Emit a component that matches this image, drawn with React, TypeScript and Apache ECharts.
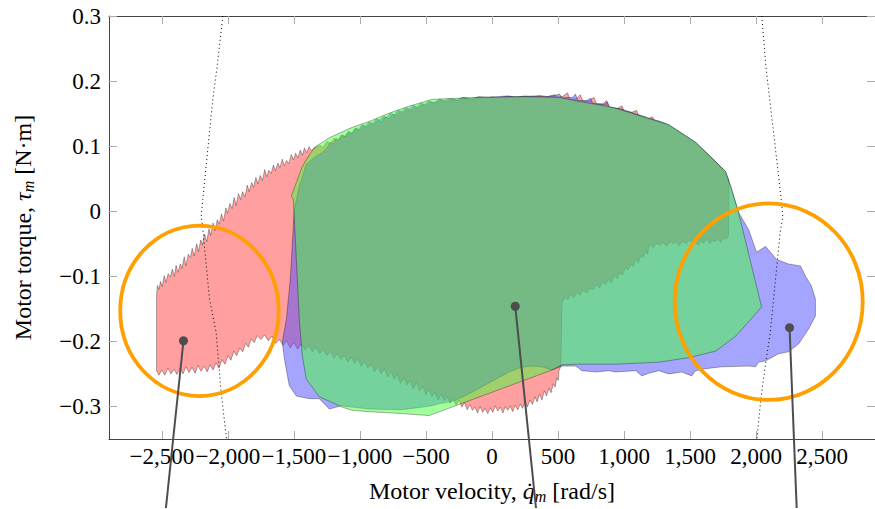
import React, { useEffect, useRef } from "react";
import * as echarts from "echarts";

// ---------- tick values ----------
const xTicks = [-2500, -2000, -1500, -1000, -500, 0, 500, 1000, 1500, 2000, 2500];
const yTicks = [-0.3, -0.2, -0.1, 0, 0.1, 0.2, 0.3];

// ---------- envelopes (motor velocity rad/s, motor torque N·m) ----------
const redTop: number[][] = [
  [-2540, -0.129], [-2533, -0.114], [-2522, -0.12], [-2510, -0.108], [-2497, -0.116], [-2482, -0.099], [-2470, -0.109],
  [-2452, -0.096], [-2437, -0.101], [-2420, -0.089], [-2405, -0.1], [-2392, -0.083], [-2378, -0.094], [-2360, -0.081],
  [-2348, -0.088], [-2330, -0.07], [-2318, -0.084], [-2300, -0.066], [-2283, -0.071], [-2270, -0.057], [-2255, -0.069],
  [-2236, -0.05], [-2222, -0.062], [-2205, -0.044], [-2193, -0.052], [-2176, -0.035], [-2160, -0.047], [-2143, -0.027],
  [-2130, -0.037], [-2112, -0.018], [-2097, -0.03], [-2080, -0.013], [-2066, -0.02], [-2048, -0.004], [-2033, -0.015],
  [-2015, 0.005], [-2002, -0.003], [-1985, 0.012], [-1968, 0.004], [-1952, 0.021], [-1937, 0.009], [-1920, 0.027],
  [-1903, 0.018], [-1888, 0.03], [-1870, 0.022], [-1853, 0.04], [-1838, 0.03], [-1820, 0.044], [-1805, 0.037],
  [-1788, 0.052], [-1772, 0.042], [-1755, 0.055], [-1738, 0.047], [-1721, 0.064], [-1706, 0.053], [-1690, 0.063],
  [-1672, 0.058], [-1655, 0.071], [-1640, 0.062], [-1622, 0.074], [-1605, 0.067], [-1588, 0.08], [-1573, 0.07],
  [-1555, 0.078], [-1538, 0.073], [-1520, 0.087], [-1503, 0.079], [-1487, 0.089], [-1470, 0.082], [-1452, 0.094],
  [-1436, 0.086], [-1420, 0.097], [-1403, 0.09], [-1385, 0.099], [-1368, 0.093], [-1346, 0.098], [-1300, 0.101],
  [-1278, 0.098], [-1250, 0.107], [-1222, 0.104], [-1195, 0.112], [-1170, 0.108], [-1140, 0.117], [-1118, 0.115],
  [-1090, 0.121], [-1060, 0.119], [-1030, 0.127], [-1005, 0.124], [-975, 0.131], [-950, 0.129], [-920, 0.135],
  [-893, 0.133], [-865, 0.14], [-838, 0.137], [-810, 0.145], [-780, 0.142], [-752, 0.149], [-725, 0.147],
  [-700, 0.153], [-672, 0.151], [-645, 0.157], [-615, 0.155], [-585, 0.161], [-560, 0.158], [-530, 0.164],
  [-500, 0.162], [-470, 0.168], [-430, 0.166], [-390, 0.171], [-350, 0.168], [-300, 0.172], [-260, 0.17],
  [-200, 0.174], [-150, 0.171], [-100, 0.175], [-50, 0.173], [0, 0.176], [60, 0.174], [120, 0.177], [180, 0.175],
  [240, 0.177], [300, 0.176], [360, 0.178], [420, 0.176], [470, 0.179], [500, 0.175], [540, 0.177], [572, 0.182],
  [590, 0.172], [640, 0.173], [668, 0.179], [690, 0.169], [740, 0.17], [772, 0.175], [790, 0.165], [840, 0.165],
  [868, 0.17], [885, 0.16], [950, 0.158], [985, 0.162], [1000, 0.154], [1060, 0.152], [1095, 0.155], [1110, 0.147],
  [1180, 0.142], [1215, 0.145], [1230, 0.139], [1300, 0.135], [1338, 0.131], [1420, 0.121], [1542, 0.104],
  [1650, 0.084], [1740, 0.066], [1792, 0.048],
];
const redRight: number[][] = [
  [1792, -0.038], [1768, -0.043], [1750, -0.041], [1731, -0.048], [1712, -0.042], [1690, -0.047], [1671, -0.044],
  [1648, -0.05], [1627, -0.043], [1603, -0.049], [1580, -0.046], [1561, -0.052], [1536, -0.045], [1515, -0.049],
  [1492, -0.044], [1468, -0.05], [1441, -0.046], [1417, -0.053], [1396, -0.047], [1372, -0.05], [1347, -0.046],
  [1322, -0.054], [1298, -0.048], [1272, -0.052], [1248, -0.049], [1220, -0.056], [1200, -0.052], [1187, -0.054],
  [1178, -0.066], [1163, -0.061], [1146, -0.071], [1127, -0.068], [1109, -0.08], [1090, -0.073], [1070, -0.085],
  [1052, -0.081], [1031, -0.09], [1010, -0.086], [988, -0.098], [970, -0.094], [948, -0.103], [925, -0.099],
  [903, -0.11], [881, -0.104], [860, -0.113], [838, -0.109], [812, -0.118], [790, -0.113], [764, -0.121],
  [742, -0.118], [715, -0.126], [694, -0.121], [668, -0.129], [645, -0.125], [618, -0.133], [597, -0.128],
  [575, -0.136], [552, -0.132], [533, -0.14], [529, -0.146], [522, -0.238], [507, -0.245],
];
const redBottom: number[][] = [
  [502, -0.26], [490, -0.256], [478, -0.27], [464, -0.265], [447, -0.279], [432, -0.272], [412, -0.284], [396, -0.276],
  [378, -0.29], [360, -0.281], [342, -0.293], [325, -0.285], [306, -0.297], [287, -0.29], [268, -0.301], [250, -0.292],
  [231, -0.303], [214, -0.296], [195, -0.305], [176, -0.298], [157, -0.308], [138, -0.299], [120, -0.306], [101, -0.3],
  [82, -0.31], [63, -0.301], [44, -0.307], [25, -0.299], [6, -0.309], [-13, -0.302], [-32, -0.311], [-52, -0.303],
  [-71, -0.309], [-90, -0.3], [-110, -0.31], [-129, -0.301], [-148, -0.306], [-168, -0.297], [-188, -0.305],
  [-208, -0.294], [-228, -0.301], [-250, -0.29], [-272, -0.298], [-295, -0.287], [-318, -0.295], [-340, -0.285],
  [-362, -0.291], [-385, -0.281], [-408, -0.29], [-432, -0.278], [-455, -0.285], [-478, -0.273], [-500, -0.282],
  [-524, -0.269], [-548, -0.276], [-572, -0.263], [-596, -0.273], [-620, -0.26], [-645, -0.267], [-668, -0.255],
  [-692, -0.265], [-716, -0.251], [-740, -0.258], [-765, -0.246], [-790, -0.255], [-815, -0.242], [-840, -0.25],
  [-865, -0.238], [-890, -0.247], [-915, -0.235], [-940, -0.241], [-965, -0.23], [-990, -0.239], [-1015, -0.227],
  [-1040, -0.234], [-1066, -0.224], [-1092, -0.232], [-1118, -0.221], [-1144, -0.228], [-1170, -0.218],
  [-1196, -0.226], [-1222, -0.215], [-1250, -0.222], [-1278, -0.212], [-1305, -0.219], [-1333, -0.209],
  [-1360, -0.216], [-1388, -0.206], [-1416, -0.213], [-1444, -0.204], [-1472, -0.212], [-1500, -0.202],
  [-1527, -0.21], [-1555, -0.199], [-1582, -0.206], [-1610, -0.197], [-1638, -0.203], [-1666, -0.192],
  [-1694, -0.199], [-1722, -0.19], [-1750, -0.197], [-1777, -0.191], [-1800, -0.202], [-1822, -0.196],
  [-1845, -0.209], [-1866, -0.203], [-1888, -0.216], [-1910, -0.21], [-1933, -0.222], [-1955, -0.215],
  [-1977, -0.229], [-2000, -0.222], [-2022, -0.235], [-2044, -0.228], [-2067, -0.241], [-2090, -0.233],
  [-2112, -0.244], [-2135, -0.236], [-2157, -0.247], [-2180, -0.238], [-2203, -0.246], [-2226, -0.237],
  [-2248, -0.249], [-2271, -0.24], [-2294, -0.248], [-2317, -0.239], [-2340, -0.25], [-2362, -0.241],
  [-2385, -0.251], [-2408, -0.243], [-2431, -0.25], [-2454, -0.241], [-2477, -0.252], [-2500, -0.244],
  [-2522, -0.252], [-2540, -0.245],
];

const blueTop: number[][] = [
  [-1247, 0.098], [-1225, 0.106], [-1203, 0.103], [-1180, 0.112], [-1158, 0.109], [-1132, 0.117], [-1110, 0.114],
  [-1085, 0.123], [-1062, 0.12], [-1036, 0.128], [-1010, 0.126], [-985, 0.133], [-960, 0.131], [-932, 0.137],
  [-905, 0.135], [-878, 0.142], [-850, 0.14], [-822, 0.146], [-795, 0.144], [-768, 0.151], [-740, 0.148],
  [-712, 0.155], [-684, 0.153], [-655, 0.159], [-627, 0.157], [-598, 0.163], [-570, 0.16], [-540, 0.166],
  [-510, 0.164], [-480, 0.169], [-440, 0.167], [-400, 0.172], [-360, 0.17], [-320, 0.173], [-270, 0.171],
  [-220, 0.175], [-160, 0.173], [-100, 0.176], [0, 0.175], [100, 0.177], [200, 0.176], [300, 0.177], [400, 0.176],
  [460, 0.177], [512, 0.18], [530, 0.174], [610, 0.175], [632, 0.18], [650, 0.17], [720, 0.17], [748, 0.174],
  [760, 0.166], [850, 0.164], [874, 0.168], [890, 0.16], [980, 0.157], [1040, 0.153], [1080, 0.15], [1150, 0.146],
  [1200, 0.142], [1260, 0.139], [1338, 0.133], [1420, 0.122], [1542, 0.106], [1650, 0.085], [1769, 0.061],
  [1814, 0.034], [1867, -0.002], [1905, -0.015], [1943, -0.028], [2003, -0.063], [2071, -0.054], [2155, -0.074],
  [2192, -0.077], [2245, -0.081], [2336, -0.084], [2374, -0.1], [2419, -0.115], [2449, -0.135],
];
const blueBottom: number[][] = [
  [2449, -0.161], [2397, -0.181], [2321, -0.204], [2245, -0.216], [2170, -0.219], [2071, -0.23], [2018, -0.232],
  [1996, -0.239], [1943, -0.238], [1739, -0.239], [1618, -0.242], [1542, -0.245], [1512, -0.253], [1436, -0.247],
  [1338, -0.25], [1263, -0.245], [1187, -0.249], [1134, -0.253], [1089, -0.245], [937, -0.247], [885, -0.245],
  [786, -0.247], [680, -0.245], [635, -0.238], [529, -0.238], [454, -0.244], [378, -0.239], [280, -0.238],
  [204, -0.241], [129, -0.247], [30, -0.258], [-151, -0.278], [-280, -0.291], [-401, -0.296], [-454, -0.299],
  [-680, -0.305], [-930, -0.304], [-1058, -0.301], [-1142, -0.299], [-1232, -0.304], [-1308, -0.288],
  [-1383, -0.288], [-1482, -0.284], [-1535, -0.268], [-1572, -0.227], [-1588, -0.201], [-1557, -0.166],
  [-1527, -0.104], [-1497, 0.003], [-1459, 0.038], [-1406, 0.072], [-1331, 0.085], [-1285, 0.09],
];

const greenEnvelope: number[][] = [
  [-1331, 0.1], [-1232, 0.113], [-1058, 0.129], [-930, 0.138], [-801, 0.149], [-650, 0.16], [-454, 0.172],
  [-98, 0.175], [227, 0.176], [507, 0.175], [650, 0.169], [907, 0.16], [1164, 0.144], [1338, 0.133], [1542, 0.106],
  [1769, 0.061], [1814, 0.034], [1867, -0.002], [2041, -0.147], [1943, -0.17], [1845, -0.192], [1693, -0.215],
  [1489, -0.225], [1263, -0.232], [937, -0.235], [635, -0.235], [529, -0.236], [454, -0.244], [-476, -0.314],
  [-680, -0.311], [-930, -0.308], [-1058, -0.306], [-1134, -0.301], [-1308, -0.285], [-1406, -0.258],
  [-1436, -0.222], [-1459, -0.166], [-1504, 0.018], [-1520, 0.023], [-1482, 0.044], [-1436, 0.069], [-1383, 0.087],
];

// dotted limit curves
const leftLimit: number[][] = [
  [-2038, 0.3], [-2084, 0.218], [-2114, 0.172], [-2152, 0.095], [-2190, 0.018], [-2202, -0.008], [-2192, -0.023],
  [-2139, -0.135], [-2089, -0.186], [-2051, -0.278], [-2010, -0.35],
];
const rightLimit: number[][] = [
  [2043, 0.3], [2074, 0.222], [2132, 0.121], [2190, 0.018], [2202, -0.008], [2182, -0.032], [2157, -0.084],
  [2107, -0.186], [2069, -0.238], [2036, -0.288], [2006, -0.35],
];

// highlight ellipses: centre (v, tau) and radii (v, tau)
const highlightCenters: number[][] = [[-2215, -0.153], [2095, -0.139]];
const highlightRadii: number[][] = [[600, 0.131], [712, 0.151]];

// annotation pins: dot and the far end of the leader line
const pinDots: number[][] = [[-2336, -0.199], [176, -0.146], [2253, -0.179]];
const pinEnds: number[][] = [[-2469, -0.456], [333, -0.456], [2307, -0.456]];

const redEnvelope = [...redTop, ...redRight, ...redBottom];
const blueEnvelope = [...blueTop, ...blueBottom];

const FONT = "'Liberation Serif', 'Times New Roman', serif";

function fmtX(v: number) {
  const a = Math.abs(Math.round(v)).toLocaleString("en-US");
  return v < 0 ? "\u2212" + a : a;
}
function fmtY(v: number) {
  if (Math.abs(v) < 1e-9) return "0";
  const a = Math.abs(v).toFixed(1);
  return v < 0 ? "\u2212" + a : a;
}

function polygonSeries(pts: number[][], fill: string, z: number) {
  return {
    type: "custom",
    coordinateSystem: "cartesian2d",
    xAxisIndex: 0,
    yAxisIndex: 0,
    data: [pts[0]],
    encode: { x: 0, y: 1 },
    clip: true,
    silent: true,
    z,
    renderItem: (_p: any, api: any) => ({
      type: "polygon",
      shape: { points: pts.map((p) => api.coord(p)) },
      style: { fill, stroke: "rgba(0,0,0,0.45)", lineWidth: 0.7 },
    }),
  };
}

export default function App() {
  const ref = useRef<HTMLDivElement>(null);
  useEffect(() => {
    if (!ref.current) return;
    const chart = echarts.init(ref.current, undefined, { renderer: "svg" });
    const tickStyle = { show: true, inside: true, length: 8, lineStyle: { color: "#ababab", width: 1 } };
    const lineStyle = { show: true, onZero: false, lineStyle: { color: "#444", width: 1 } };
    const nameRich = {
      it: { fontFamily: FONT, fontSize: 24, fontStyle: "italic", color: "#000" },
      sub: { fontFamily: FONT, fontSize: 16, fontStyle: "italic", color: "#000", padding: [11, 0, 0, 0] },
    };
    chart.setOption({
      animation: false,
      grid: { left: 109, right: -2, top: 16, bottom: 69, containLabel: false },
      xAxis: [
        {
          type: "value",
          min: -2900,
          max: 2900,
          position: "bottom",
          axisLine: lineStyle,
          axisTick: { ...tickStyle, customValues: xTicks },
          splitLine: { show: false },
          axisLabel: {
            customValues: xTicks,
            formatter: fmtX,
            fontFamily: FONT,
            fontSize: 23,
            color: "#000",
            margin: 6,
            hideOverlap: false,
          },
          name: "Motor velocity, {it|q\u0307}{sub|m} [rad/s]",
          nameLocation: "middle",
          nameGap: 38,
          nameTextStyle: { fontFamily: FONT, fontSize: 24, color: "#000", rich: nameRich },
        },
        {
          type: "value",
          min: -2900,
          max: 2900,
          position: "top",
          axisLine: lineStyle,
          axisTick: { ...tickStyle, customValues: xTicks },
          axisLabel: { show: false },
          splitLine: { show: false },
        },
      ],
      yAxis: [
        {
          type: "value",
          min: -0.35,
          max: 0.3,
          position: "left",
          axisLine: lineStyle,
          axisTick: { ...tickStyle, customValues: yTicks },
          splitLine: { show: false },
          axisLabel: {
            customValues: yTicks,
            formatter: fmtY,
            fontFamily: FONT,
            fontSize: 23,
            color: "#000",
            margin: 8,
          },
          name: "Motor torque, {it|\u03C4}{sub|m} [N\u00B7m]",
          nameLocation: "middle",
          nameGap: 73,
          nameTextStyle: { fontFamily: FONT, fontSize: 24, color: "#000", rich: nameRich },
        },
        {
          type: "value",
          min: -0.35,
          max: 0.3,
          position: "right",
          axisLine: lineStyle,
          axisTick: { ...tickStyle, customValues: yTicks },
          axisLabel: { show: false },
          splitLine: { show: false },
        },
      ],
      series: [
        polygonSeries(redEnvelope, "rgba(255,64,64,0.5)", 2),
        polygonSeries(blueEnvelope, "rgba(76,76,255,0.5)", 2),
        polygonSeries(greenEnvelope, "rgba(70,255,60,0.5)", 2),
        {
          type: "line",
          data: leftLimit,
          symbol: "none",
          clip: true,
          silent: true,
          z: 3,
          lineStyle: { color: "#000", width: 1, type: [1, 3] },
        },
        {
          type: "line",
          data: rightLimit,
          symbol: "none",
          clip: true,
          silent: true,
          z: 3,
          lineStyle: { color: "#000", width: 1, type: [1, 3] },
        },
        {
          type: "custom",
          coordinateSystem: "cartesian2d",
          data: highlightCenters.map((c, i) => [c[0], c[1], highlightRadii[i][0], highlightRadii[i][1]]),
          encode: { x: 0, y: 1 },
          clip: false,
          silent: true,
          z: 4,
          renderItem: (_p: any, api: any) => {
            const c = api.coord([api.value(0), api.value(1)]);
            const s = api.size([api.value(2), api.value(3)]);
            return {
              type: "ellipse",
              shape: { cx: c[0], cy: c[1], rx: s[0], ry: s[1] },
              style: { fill: "none", stroke: "#ff9f00", lineWidth: 3.8 },
            };
          },
        },
        {
          type: "custom",
          coordinateSystem: "cartesian2d",
          data: pinDots.map((d, i) => [d[0], d[1], pinEnds[i][0], pinEnds[i][1]]),
          encode: { x: 0, y: 1 },
          clip: false,
          silent: true,
          z: 5,
          renderItem: (_p: any, api: any) => {
            const a = api.coord([api.value(0), api.value(1)]);
            const b = api.coord([api.value(2), api.value(3)]);
            return {
              type: "group",
              children: [
                {
                  type: "line",
                  shape: { x1: a[0], y1: a[1], x2: b[0], y2: b[1] },
                  style: { stroke: "#4d4d4d", lineWidth: 2 },
                },
                {
                  type: "circle",
                  shape: { cx: a[0], cy: a[1], r: 4.5 },
                  style: { fill: "#4d4d4d" },
                },
              ],
            };
          },
        },
      ],
    });
    return () => chart.dispose();
  }, []);
  return (
    <div
      ref={ref}
      style={{ position: "absolute", left: 0, top: 0, width: 875, height: 509 }}
    />
  );
}
